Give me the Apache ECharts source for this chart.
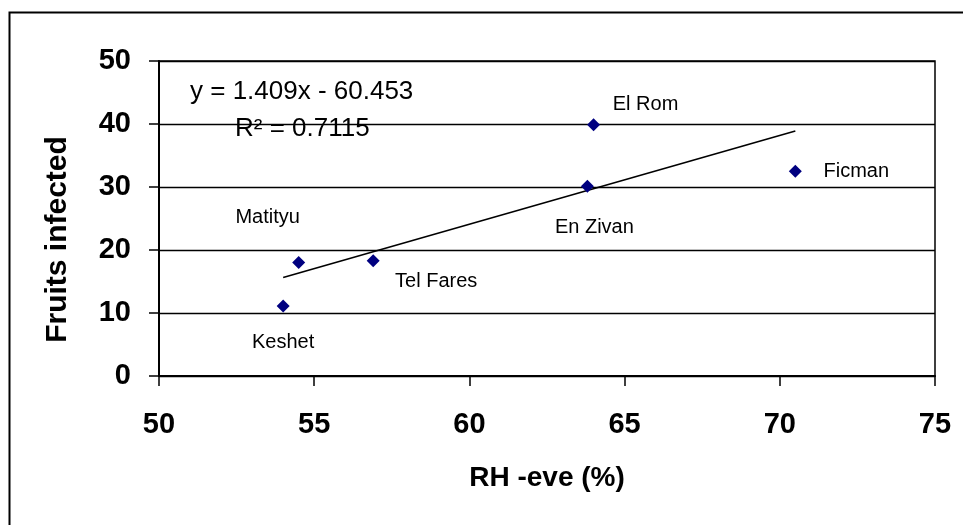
<!DOCTYPE html>
<html>
<head>
<meta charset="utf-8">
<script src="https://cdn.jsdelivr.net/npm/echarts@6/dist/echarts.min.js"></script>
<style>
html,body{margin:0;padding:0;background:#fff;}
#chart{width:963px;height:525px;}
</style>
</head>
<body>
<div id="chart"></div>
<script>
// ---- data ----
const siteNames = ['Keshet', 'Matityu', 'Tel Fares', 'En Zivan', 'El Rom', 'Ficman'];
const rhEve = [54.0, 54.5, 56.9, 63.8, 64.0, 70.5];
const fruitsInfected = [11.1, 18.0, 18.3, 30.1, 39.9, 32.5];
const xTicks = [50, 55, 60, 65, 70, 75];
const yTicks = [0, 10, 20, 30, 40, 50];
const trendSlope = 1.409;
const trendIntercept = -60.453;
const rSquared = '0.7115';

// label offsets (styling only)
const labelOffsets = [[0, 36], [-31, -45], [63, 21], [7, 41], [52, -20], [61, 0]];

const FONT = 'Arial, "Liberation Sans", sans-serif';

const pts = rhEve.map((x, i) => ({
  value: [x, fruitsInfected[i]],
  name: siteNames[i],
  label: { offset: labelOffsets[i] }
}));
const xMinData = Math.min(...rhEve), xMaxData = Math.max(...rhEve);
const trend = [xMinData, xMaxData].map(x => [x, trendSlope * x + trendIntercept]);

const chart = echarts.init(document.getElementById('chart'));
chart.setOption({
  animation: false,
  backgroundColor: '#fff',
  grid: { left: 159, top: 61, right: 28, bottom: 149, show: true, borderColor: '#000', borderWidth: 1.5 },
  xAxis: {
    type: 'value', min: xTicks[0], max: xTicks[xTicks.length - 1], interval: 5,
    name: 'RH -eve (%)', nameLocation: 'middle', nameGap: 88,
    nameTextStyle: { fontFamily: FONT, fontWeight: 'bold', fontSize: 28, color: '#000' },
    axisLine: { lineStyle: { color: '#000', width: 2 } },
    axisTick: { show: true, inside: false, length: 10, lineStyle: { color: '#000', width: 1.5 } },
    axisLabel: { margin: 34, fontFamily: FONT, fontWeight: 'bold', fontSize: 29, color: '#000' },
    splitLine: { show: false }
  },
  yAxis: {
    type: 'value', min: yTicks[0], max: yTicks[yTicks.length - 1], interval: 10,
    name: 'Fruits infected', nameLocation: 'middle', nameGap: 86,
    nameTextStyle: { fontFamily: FONT, fontWeight: 'bold', fontSize: 30, color: '#000', padding: [0, 42, 0, 0] },
    axisLine: { show: true, lineStyle: { color: '#000', width: 2 } },
    axisTick: { show: true, inside: false, length: 10, lineStyle: { color: '#000', width: 1.5 } },
    axisLabel: { margin: 28, fontFamily: FONT, fontWeight: 'bold', fontSize: 29, color: '#000' },
    splitLine: { show: true, lineStyle: { color: '#000', width: 1.3 } }
  },
  series: [
    {
      type: 'line', data: trend, symbol: 'none', silent: true,
      lineStyle: { color: '#000', width: 1.6 }, z: 3
    },
    {
      type: 'scatter', data: pts, symbol: 'diamond', symbolSize: 13,
      itemStyle: { color: '#000080', opacity: 1 }, z: 4,
      label: {
        show: true, position: 'inside', formatter: p => p.name,
        fontFamily: FONT, fontSize: 20, color: '#000', opacity: 1, align: 'center', verticalAlign: 'middle'
      }
    }
  ],
  graphic: [
    { type: 'rect', left: 7, top: 10, shape: { width: 1000, height: 600 }, style: { fill: 'none', stroke: '#000', lineWidth: 2 }, silent: true, z: -1 },
    { type: 'text', left: 190, top: 79, style: { text: 'y = ' + trendSlope + 'x - ' + Math.abs(trendIntercept), font: '26px ' + FONT, fill: '#000' }, z: 10 },
    { type: 'text', left: 235, top: 116, style: { text: 'R\u00B2 = ' + rSquared, font: '26px ' + FONT, fill: '#000' }, z: 10 }
  ]
});
</script>
</body>
</html>
